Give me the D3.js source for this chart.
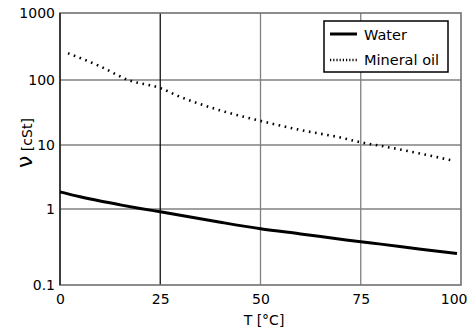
<!DOCTYPE html>
<html><head><meta charset="utf-8">
<script src="https://cdn.jsdelivr.net/npm/d3@7"></script>
<style>body{margin:0;background:#fff}svg{display:block}text{font-family:"DejaVu Sans",sans-serif;fill:#000}</style>
</head><body><svg id="c" width="471" height="330"></svg>
<script>
const xTicks = [0, 25, 50, 75, 100];
const yTicks = [0.1, 1, 10, 100, 1000];
const yTickLabels = ["0.1", "1", "10", "100", "1000"];
const waterT = [0, 5, 10, 15, 20, 25, 30, 40, 50, 60, 70, 75, 80, 90, 99];
const waterV = [1.85, 1.55, 1.33, 1.16, 1.02, 0.92, 0.83, 0.67, 0.55, 0.47, 0.40, 0.37, 0.345, 0.295, 0.26];
const oilT = [2, 10, 17, 25, 30, 40, 50, 60, 70, 75, 80, 90, 98];
const oilV = [250, 160, 100, 75, 55, 34, 23.5, 17, 13, 11, 9.7, 7.3, 5.7];
const seriesNames = ["Water", "Mineral oil"];

const svg = d3.select("#c");
const x = d3.scaleLinear().domain([0, 100]).range([60, 461]);
const y = d3.scaleLog().domain([0.1, 1, 10, 100, 1000]).range([285, 209, 145, 80, 13]);

// grid
svg.append("g").selectAll("line").data(yTicks.slice(1, 4)).join("line")
  .attr("x1", x(0)).attr("x2", x(100)).attr("y1", d => y(d)).attr("y2", d => y(d))
  .attr("stroke", "#808080").attr("stroke-width", 1.3);
svg.append("g").selectAll("line").data(xTicks.slice(1, 4)).join("line")
  .attr("y1", y(1000)).attr("y2", y(0.1)).attr("x1", d => x(d)).attr("x2", d => x(d))
  .attr("stroke", (d, i) => i === 0 ? "#111" : "#808080").attr("stroke-width", 1.3);

// frame
svg.append("rect").attr("x", x(0)).attr("y", y(1000)).attr("width", x(100) - x(0)).attr("height", y(0.1) - y(1000))
  .attr("fill", "none").attr("stroke", "#707070").attr("stroke-width", 1.6);
svg.append("line").attr("x1", x(0)).attr("x2", x(0)).attr("y1", y(1000)).attr("y2", y(0.1))
  .attr("stroke", "#222").attr("stroke-width", 1.5);

// axes labels via d3 axes
const yAxis = d3.axisLeft(y).tickValues(yTicks).tickFormat((d, i) => yTickLabels[i]).tickSize(0).tickPadding(5);
const gy = svg.append("g").attr("transform", `translate(${x(0)},0)`).call(yAxis);
gy.select(".domain").remove();
gy.selectAll("text").attr("font-size", 14).attr("font-family", "DejaVu Sans, sans-serif").attr("fill", "#000");

const xAxis = d3.axisBottom(x).tickValues(xTicks).tickSize(0).tickPadding(0);
const gx = svg.append("g").attr("transform", `translate(0,${y(0.1)})`).call(xAxis);
gx.select(".domain").remove();
gx.selectAll("text").attr("font-size", 14).attr("font-family", "DejaVu Sans, sans-serif").attr("fill", "#000")
  .attr("dy", null).attr("y", 19);
gx.selectAll(".tick").filter(d => d === 100).select("text").attr("text-anchor", "end").attr("x", 6);

svg.append("text").attr("x", 264).attr("y", 325).attr("text-anchor", "middle").attr("font-size", 14)
  .text("T [°C]");
svg.append("text").attr("transform", "translate(32,143) rotate(-90)").attr("text-anchor", "middle").attr("font-size", 14)
  .html('<tspan font-size="22">ν</tspan> [cSt]');

// lines
const line = d3.line().x(d => x(d[0])).y(d => y(d[1])).curve(d3.curveMonotoneX);
svg.append("path").datum(waterT.map((t, i) => [t, waterV[i]])).attr("d", line)
  .attr("fill", "none").attr("stroke", "#000").attr("stroke-width", 3);
svg.append("path").datum(oilT.map((t, i) => [t, oilV[i]])).attr("d", line)
  .attr("fill", "none").attr("stroke", "#000").attr("stroke-width", 2.6).attr("stroke-dasharray", "1.6,4.6");

// legend
const lg = svg.append("g");
lg.append("rect").attr("x", 324).attr("y", 21).attr("width", 124).attr("height", 51)
  .attr("fill", "#fff").attr("stroke", "#000").attr("stroke-width", 1.5);
lg.append("line").attr("x1", 330).attr("x2", 357).attr("y1", 34).attr("y2", 34).attr("stroke", "#000").attr("stroke-width", 3);
lg.append("line").attr("x1", 330).attr("x2", 357).attr("y1", 60).attr("y2", 60).attr("stroke", "#000").attr("stroke-width", 2.5).attr("stroke-dasharray", "1.2,2");
lg.append("text").attr("x", 364).attr("y", 40).attr("font-size", 14.5).text(seriesNames[0]);
lg.append("text").attr("x", 364).attr("y", 65).attr("font-size", 14.5).text(seriesNames[1]);
</script></body></html>
